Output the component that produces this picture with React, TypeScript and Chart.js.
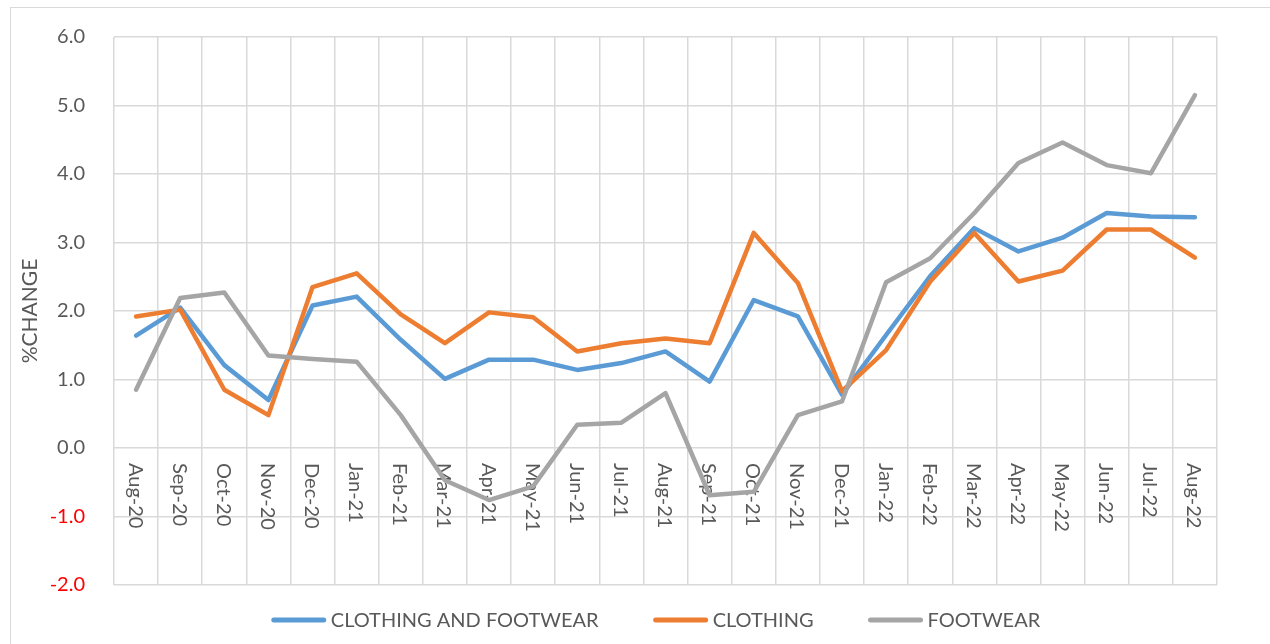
import { useEffect, useRef } from 'react';
import { Chart, registerables } from 'chart.js';

Chart.register(...registerables);

const months = [
  'Aug-20', 'Sep-20', 'Oct-20', 'Nov-20', 'Dec-20', 'Jan-21', 'Feb-21', 'Mar-21', 'Apr-21',
  'May-21', 'Jun-21', 'Jul-21', 'Aug-21', 'Sep-21', 'Oct-21', 'Nov-21', 'Dec-21', 'Jan-22',
  'Feb-22', 'Mar-22', 'Apr-22', 'May-22', 'Jun-22', 'Jul-22', 'Aug-22',
];

const clothingAndFootwear = [
  1.64, 2.05, 1.21, 0.70, 2.08, 2.21, 1.58, 1.01, 1.29, 1.29, 1.14, 1.24, 1.41, 0.97, 2.16,
  1.92, 0.78, 1.65, 2.51, 3.21, 2.87, 3.07, 3.43, 3.38, 3.37,
];

const clothing = [
  1.92, 2.02, 0.85, 0.48, 2.35, 2.55, 1.95, 1.53, 1.98, 1.91, 1.41, 1.53, 1.60, 1.53, 3.14,
  2.41, 0.83, 1.43, 2.43, 3.14, 2.43, 2.59, 3.19, 3.19, 2.78,
];

const footwear = [
  0.85, 2.19, 2.27, 1.35, 1.30, 1.26, 0.48, -0.47, -0.76, -0.56, 0.34, 0.37, 0.80, -0.69, -0.64,
  0.48, 0.68, 2.42, 2.77, 3.43, 4.16, 4.46, 4.13, 4.01, 5.15,
];

const seriesNames = ['CLOTHING AND FOOTWEAR', 'CLOTHING', 'FOOTWEAR'];
const seriesColors = ['#5b9bd5', '#ed7d31', '#a5a5a5'];

const yMin = -2;
const yMax = 6;
const yStep = 1;
const yTitle = '%CHANGE';

const FONT = 'Lato, "Open Sans", sans-serif';
const TEXT = '#595959';
const GRID = '#d9d9d9';

const frameBorder = {
  id: 'frameBorder',
  beforeDraw(chart: any) {
    const ctx = chart.ctx;
    ctx.save();
    ctx.strokeStyle = GRID;
    ctx.lineWidth = 1;
    ctx.strokeRect(10.5, 7.5, 2000, 2000);
    ctx.restore();
  },
};

const rotatedXLabels = {
  id: 'rotatedXLabels',
  beforeDatasetsDraw(chart: any) {
    const { ctx, scales } = chart;
    const xs = scales.x;
    const ys = scales.y;
    const y0 = ys.getPixelForValue(0);
    ctx.save();
    ctx.font = `20px ${FONT}`;
    ctx.fillStyle = TEXT;
    ctx.textAlign = 'left';
    ctx.textBaseline = 'middle';
    (chart.data.labels as string[]).forEach((lab, i) => {
      const px = xs.getPixelForValue(i);
      ctx.save();
      ctx.translate(px - 1, y0 + 15);
      ctx.rotate(Math.PI / 2);
      ctx.fillText(lab, 0, 0);
      ctx.restore();
    });
    ctx.restore();
  },
};

const bottomLegend = {
  id: 'bottomLegend',
  afterDraw(chart: any) {
    const ctx = chart.ctx;
    const lineLen = 50;
    const textGap = 7;
    const itemGap = 57;
    const cx = 657;
    const cy = 620;
    ctx.save();
    ctx.font = `20px ${FONT}`;
    const items = chart.data.datasets.map((ds: any) => ({
      text: ds.label as string,
      color: ds.borderColor as string,
      w: ctx.measureText(ds.label).width,
    }));
    const total =
      items.reduce((s: number, it: any) => s + lineLen + textGap + it.w, 0) +
      itemGap * (items.length - 1);
    let x = cx - total / 2;
    ctx.textAlign = 'left';
    ctx.textBaseline = 'middle';
    items.forEach((it: any) => {
      ctx.strokeStyle = it.color;
      ctx.lineWidth = 5;
      ctx.lineCap = 'round';
      ctx.beginPath();
      ctx.moveTo(x, cy);
      ctx.lineTo(x + lineLen, cy);
      ctx.stroke();
      ctx.fillStyle = TEXT;
      ctx.fillText(it.text, x + lineLen + textGap, cy + 1);
      x += lineLen + textGap + it.w + itemGap;
    });
    ctx.restore();
  },
};

export default function App() {
  const ref = useRef<HTMLCanvasElement>(null);

  useEffect(() => {
    if (!ref.current) return;
    const series = [clothingAndFootwear, clothing, footwear];
    const chart = new Chart(ref.current, {
      type: 'line',
      data: {
        labels: months,
        datasets: series.map((d, i) => ({
          label: seriesNames[i],
          data: d,
          borderColor: seriesColors[i],
          backgroundColor: seriesColors[i],
          borderWidth: 4.5,
          pointRadius: 0,
          pointHoverRadius: 0,
          tension: 0,
          fill: false,
          borderCapStyle: 'round' as const,
          borderJoinStyle: 'round' as const,
          order: 3 - i,
        })),
      },
      options: {
        responsive: false,
        animation: false,
        events: [],
        layout: { padding: { left: 10, right: 53, top: 37, bottom: 59 } },
        plugins: {
          legend: { display: false },
          tooltip: { enabled: false },
        },
        scales: {
          x: {
            type: 'category',
            offset: true,
            grid: { display: true, offset: true, color: GRID, lineWidth: 1.5, drawTicks: false },
            border: { display: false },
            ticks: { display: false },
            afterFit(scale: any) {
              scale.height = 0;
            },
          },
          y: {
            type: 'linear',
            min: yMin,
            max: yMax,
            grid: {
              color: GRID,
              lineWidth: 1.5,
              drawTicks: true,
              tickLength: 29,
              tickColor: 'rgba(0,0,0,0)',
            },
            border: { display: false },
            ticks: {
              stepSize: yStep,
              padding: 0,
              font: { family: FONT, size: 20 },
              color: (c: any) => (c.tick && c.tick.value < 0 ? '#ff0000' : TEXT),
              callback: (v: any) => Number(v).toFixed(1),
            },
            title: {
              display: true,
              text: yTitle,
              color: TEXT,
              font: { family: FONT, size: 21 },
              padding: { top: 8, bottom: 0 },
            },
            afterFit(scale: any) {
              scale.width = 104;
            },
          },
        },
      },
      plugins: [frameBorder, rotatedXLabels, bottomLegend],
    });
    return () => chart.destroy();
  }, []);

  return (
    <div style={{ position: 'fixed', left: 0, top: 0, width: 1270, height: 644, overflow: 'hidden', background: '#fff' }}>
      <canvas ref={ref} width={1270} height={644} style={{ display: 'block' }} />
    </div>
  );
}
